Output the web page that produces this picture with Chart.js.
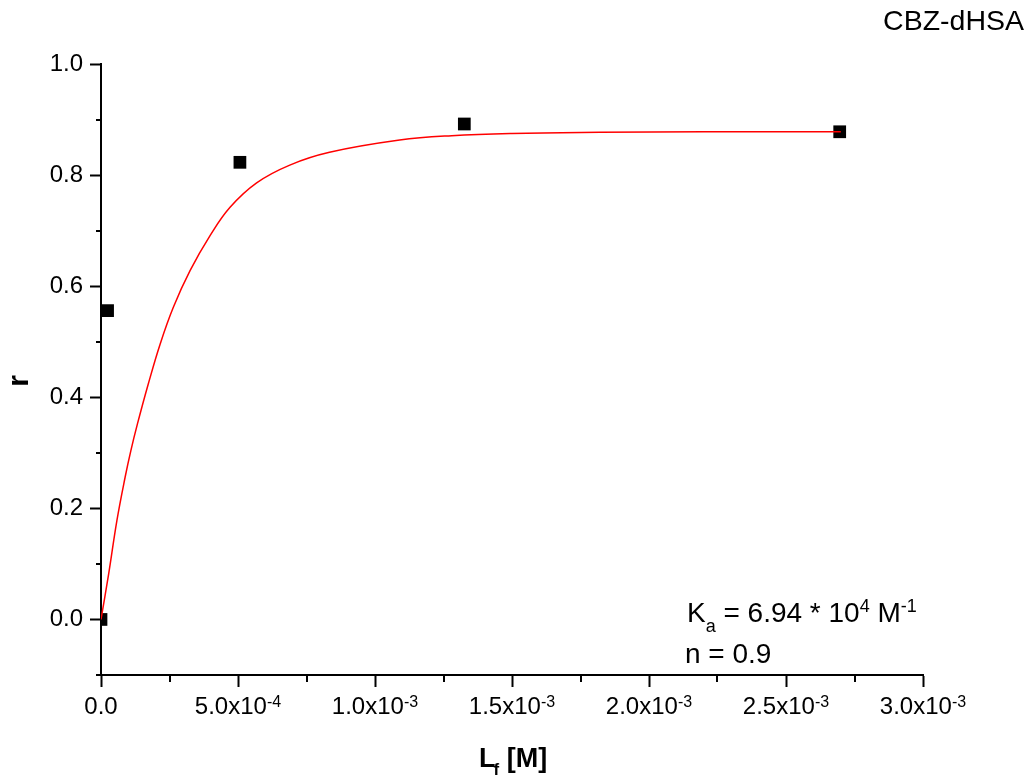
<!DOCTYPE html>
<html>
<head>
<meta charset="utf-8">
<script src="https://cdn.jsdelivr.net/npm/chart.js@4"></script>
<style>
  html, body { margin: 0; padding: 0; background: #fff; }
  canvas { display: block; }
</style>
</head>
<body>
<canvas id="bindingChart" width="1035" height="780"></canvas>
<script>
// measured points
const dataX = [0, 2.4e-5, 5.07e-4, 1.326e-3, 2.696e-3];
const dataY = [0, 0.556, 0.823, 0.892, 0.878];

// fitted curve
const fitX = [0, 2.8e-5, 5.8e-5, 8.8e-5, 1.09e-4, 1.33e-4, 1.72e-4, 2.16e-4, 2.64e-4, 3.25e-4, 3.98e-4,
  4.71e-4, 5.68e-4, 6.89e-4, 8.34e-4, 1.09e-3, 1.28e-3, 1.50e-3, 1.82e-3, 2.20e-3, 2.70e-3];
const fitY = [0, 0.082, 0.178, 0.256, 0.304, 0.352, 0.423, 0.496, 0.562, 0.628, 0.691,
  0.742, 0.786, 0.818, 0.841, 0.863, 0.871, 0.875, 0.877, 0.878, 0.878];

// ticks
const xTicks = [0, 5e-4, 1e-3, 1.5e-3, 2e-3, 2.5e-3, 3e-3];
const xTickBase = ['0.0', '5.0x10', '1.0x10', '1.5x10', '2.0x10', '2.5x10', '3.0x10'];
const xTickExp = ['', '-4', '-3', '-3', '-3', '-3', '-3'];
const xMinor = [2.5e-4, 7.5e-4, 1.25e-3, 1.75e-3, 2.25e-3, 2.75e-3];
const yTicks = [0, 0.2, 0.4, 0.6, 0.8, 1.0];
const yMinor = [-0.1, 0.1, 0.3, 0.5, 0.7, 0.9];

const chartTitle = 'CBZ-dHSA';
const yTitle = 'r';
const xTitle = ['L', 'f', ' [M]'];
const kaText = ['K', 'a', ' = 6.94 * 10', '4', ' M', '-1'];
const nText = 'n = 0.9';

const FONT = '"Liberation Sans", Arial, sans-serif';

const extras = {
  id: 'extras',
  afterDraw(chart) {
    const ctx = chart.ctx;
    const xs = chart.scales.x;
    const ys = chart.scales.y;
    const area = chart.chartArea;
    ctx.save();

    // minor ticks
    ctx.strokeStyle = '#000';
    ctx.lineWidth = 2;
    ctx.beginPath();
    xMinor.forEach(v => {
      const px = Math.round(xs.getPixelForValue(v));
      ctx.moveTo(px, area.bottom);
      ctx.lineTo(px, area.bottom + 7);
    });
    yMinor.forEach(v => {
      const py = Math.round(ys.getPixelForValue(v));
      ctx.moveTo(area.left, py);
      ctx.lineTo(area.left - 5, py);
    });
    ctx.stroke();

    ctx.fillStyle = '#000';
    ctx.textAlign = 'left';
    ctx.textBaseline = 'alphabetic';

    // x tick labels with superscripts
    xTicks.forEach((v, i) => {
      ctx.font = '24px ' + FONT;
      const wb = ctx.measureText(xTickBase[i]).width;
      ctx.font = '16px ' + FONT;
      const we = xTickExp[i] ? ctx.measureText(xTickExp[i]).width : 0;
      const x0 = xs.getPixelForValue(v) - (wb + we) / 2;
      ctx.font = '24px ' + FONT;
      ctx.fillText(xTickBase[i], x0, 714);
      if (xTickExp[i]) {
        ctx.font = '16px ' + FONT;
        ctx.fillText(xTickExp[i], x0 + wb, 707);
      }
    });

    // x title
    let x = 479;
    ctx.font = 'bold 27px ' + FONT;
    ctx.fillText(xTitle[0], x, 767);
    x += ctx.measureText(xTitle[0]).width - 2;
    ctx.font = 'bold 17px ' + FONT;
    ctx.fillText(xTitle[1], x, 775);
    x += ctx.measureText(xTitle[1]).width;
    ctx.font = 'bold 27px ' + FONT;
    ctx.fillText(xTitle[2], x, 767);

    // y title
    ctx.save();
    ctx.translate(28, 381);
    ctx.rotate(-Math.PI / 2);
    ctx.textAlign = 'center';
    ctx.font = 'bold 30px ' + FONT;
    ctx.fillText(yTitle, 0, 0);
    ctx.restore();

    // corner label
    ctx.textAlign = 'right';
    ctx.font = '28.5px ' + FONT;
    ctx.fillText(chartTitle, 1024, 30);
    ctx.textAlign = 'left';

    // Ka annotation
    const sizes = [28, 18, 28, 18, 28, 18];
    const lifts = [0, 10, 0, -10, 0, -10];
    x = 687;
    kaText.forEach((t, i) => {
      ctx.font = sizes[i] + 'px ' + FONT;
      ctx.fillText(t, x, 622 + lifts[i]);
      x += ctx.measureText(t).width;
    });
    ctx.font = '28px ' + FONT;
    ctx.fillText(nText, 685, 663);

    ctx.restore();
  }
};

const ctx = document.getElementById('bindingChart');
new Chart(ctx, {
  type: 'scatter',
  data: {
    datasets: [
      {
        label: 'fit',
        data: fitX.map((v, i) => ({ x: v, y: fitY[i] })),
        showLine: true,
        borderColor: '#ff0000',
        borderWidth: 1.5,
        pointRadius: 0,
        tension: 0.4
      },
      {
        label: 'r',
        data: dataX.map((v, i) => ({ x: v, y: dataY[i] })),
        pointStyle: 'rect',
        pointRadius: 9,
        pointBorderWidth: 0,
        backgroundColor: '#000',
        borderColor: '#000',
        clip: 0
      }
    ]
  },
  options: {
    responsive: false,
    animation: false,
    events: [],
    layout: { padding: { top: 64, right: 112, bottom: 0, left: 0 } },
    plugins: { legend: { display: false }, tooltip: { enabled: false } },
    scales: {
      x: {
        type: 'linear',
        min: 0,
        max: 3e-3,
        afterBuildTicks: s => { s.ticks = xTicks.map(v => ({ value: v })); },
        afterFit: s => { s.height = 105; },
        ticks: { display: false },
        grid: { drawOnChartArea: false, drawTicks: true, tickLength: 12, tickWidth: 2, tickColor: '#000' },
        border: { display: true, color: '#000', width: 2 }
      },
      y: {
        type: 'linear',
        min: -0.1,
        max: 1.0,
        afterBuildTicks: s => { s.ticks = yTicks.map(v => ({ value: v })); },
        afterFit: s => { s.width = 101; },
        ticks: {
          color: '#000',
          padding: 7,
          font: { family: FONT, size: 24 },
          callback: v => v.toFixed(1)
        },
        grid: { drawOnChartArea: false, drawTicks: true, tickLength: 11, tickWidth: 2, tickColor: '#000' },
        border: { display: true, color: '#000', width: 2 }
      }
    }
  },
  plugins: [extras]
});
</script>
</body>
</html>
